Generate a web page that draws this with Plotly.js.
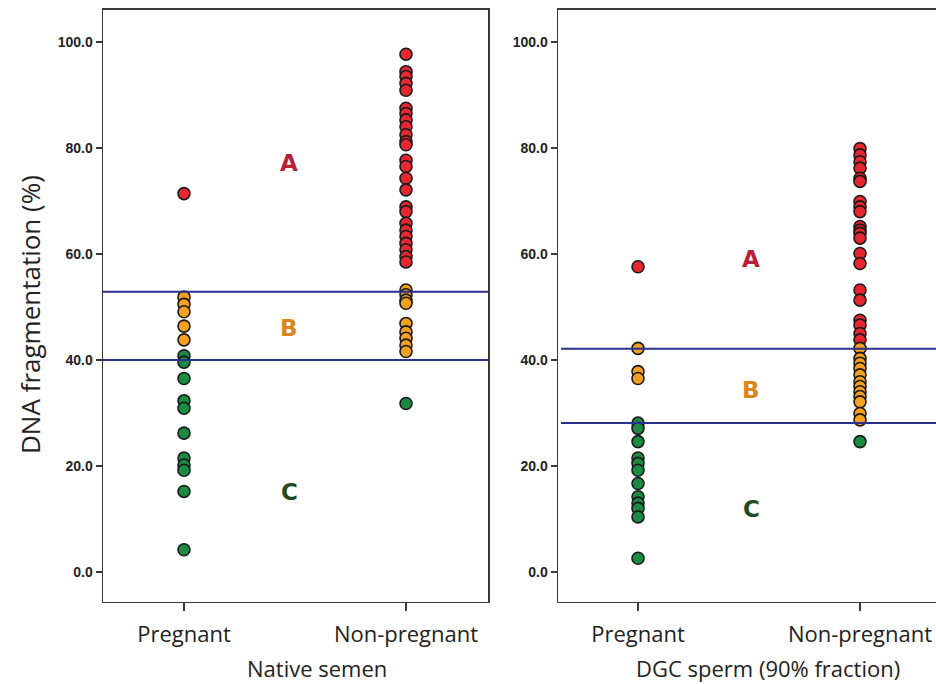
<!DOCTYPE html>
<html>
<head>
<meta charset="utf-8">
<script src="https://cdn.plot.ly/plotly-3.0.1.min.js"></script>
<style>html,body{margin:0;padding:0;background:#fff;}#chart{width:936px;height:684px;}</style>
</head>
<body>
<div id="chart"></div>
<script>
// ---- Data ----
const groups = ["Pregnant", "Non-pregnant"];

// Native semen
const nativePregRed = [71.4];
const nativePregOrange = [51.9, 50.5, 49.1, 46.4, 43.8];
const nativePregGreen = [40.8, 39.6, 36.5, 32.3, 30.9, 26.2, 21.5, 20.2, 19.2, 15.2, 4.2];
const nativeNonRed = [97.7, 94.4, 93.5, 92.2, 90.9, 87.5, 86.5, 85.3, 84.0, 82.5, 81.2, 80.6, 77.7, 76.5, 74.3, 72.1, 68.9, 68.0, 65.8, 64.5, 63.3, 62.0, 60.8, 59.5, 58.5];
const nativeNonOrange = [53.2, 52.3, 51.3, 50.7, 46.9, 45.3, 44.1, 42.8, 41.6];
const nativeNonGreen = [31.8];
const nativeThresholds = [52.9, 40.0];
const nativeZoneY = [77.2, 46.0, 15.1];

// DGC sperm (90% fraction)
const dgcPregRed = [57.6];
const dgcPregOrange = [42.2, 37.8, 36.5];
const dgcPregGreen = [28.1, 27.1, 24.6, 21.5, 20.5, 19.2, 16.7, 14.2, 13.0, 12.0, 10.4, 2.6];
const dgcNonRed = [79.9, 78.7, 77.4, 76.2, 74.3, 73.7, 69.9, 68.9, 68.0, 65.2, 64.5, 63.9, 63.0, 60.1, 58.2, 53.2, 51.3, 47.5, 46.6, 45.0, 43.8];
const dgcNonOrange = [42.2, 40.3, 39.4, 38.4, 37.2, 35.9, 35.0, 34.0, 33.1, 32.1, 29.9, 28.7];
const dgcNonGreen = [24.6];
const dgcThresholds = [42.1, 28.1];
const dgcZoneY = [59.1, 34.3, 11.9];

const zoneLabels = ["A", "B", "C"];
const yTicks = [0, 20, 40, 60, 80, 100];

// ---- Styles ----
const RED = "#e8262f", ORANGE = "#f6a01f", GREEN = "#1b8a43";
const ZONE_COLORS = ["#b8203a", "#d9861c", "#1f4a1f"];
const LINE_BLUE = "#2b2f8f";

function pts(cat, vals, color, xa, ya) {
  return {
    type: "scatter", mode: "markers",
    x: vals.map(() => cat), y: vals,
    xaxis: xa, yaxis: ya, showlegend: false, hoverinfo: "y",
    marker: {size: 12, color: color, line: {color: "#1a1a1a", width: 1.6}}
  };
}

const traces = [
  pts(groups[0], nativePregRed, RED, "x", "y"),
  pts(groups[0], nativePregOrange, ORANGE, "x", "y"),
  pts(groups[0], nativePregGreen, GREEN, "x", "y"),
  pts(groups[1], nativeNonRed, RED, "x", "y"),
  pts(groups[1], nativeNonOrange, ORANGE, "x", "y"),
  pts(groups[1], nativeNonGreen, GREEN, "x", "y"),
  pts(groups[0], dgcPregRed, RED, "x2", "y2"),
  pts(groups[0], dgcPregOrange, ORANGE, "x2", "y2"),
  pts(groups[0], dgcPregGreen, GREEN, "x2", "y2"),
  pts(groups[1], dgcNonRed, RED, "x2", "y2"),
  pts(groups[1], dgcNonOrange, ORANGE, "x2", "y2"),
  pts(groups[1], dgcNonGreen, GREEN, "x2", "y2")
];

const catFont = {family: "Open Sans, Noto Sans, sans-serif", size: 22, color: "#222"};
const tickFont = {family: "Liberation Sans, Arial, sans-serif", size: 14, color: "#222", weight: "bold"};
const frameColor = "#3a3a3a";

function xAxis(domain, range) {
  return {
    domain: domain, type: "category", categoryarray: groups, range: range,
    showline: true, mirror: true, linecolor: frameColor, linewidth: 1.5,
    ticks: "outside", ticklen: 8, tickwidth: 1.5, tickcolor: frameColor,
    tickfont: catFont, showgrid: false, zeroline: false, fixedrange: true,
    ticklabelstandoff: 4
  };
}
function yAxis(mirror) {
  return {
    domain: [0.1199, 0.9854], range: [-5.66, 106.04],
    tickvals: yTicks, tickformat: ".1f",
    showline: true, mirror: mirror, linecolor: frameColor, linewidth: 1.5,
    ticks: "outside", ticklen: 6, tickwidth: 1.5, tickcolor: frameColor,
    tickfont: tickFont, showgrid: false, zeroline: false, fixedrange: true
  };
}

const shapes = [];
nativeThresholds.forEach(v => shapes.push({type: "line", xref: "x domain", yref: "y", x0: 0, x1: 1, y0: v, y1: v, line: {color: LINE_BLUE, width: 2}}));
dgcThresholds.forEach(v => shapes.push({type: "line", xref: "x2 domain", yref: "y2", x0: 0.008, x1: 1, y0: v, y1: v, line: {color: LINE_BLUE, width: 2}}));

const zoneFont = c => ({family: "DejaVu Sans, sans-serif", size: 23, color: c, weight: "bold"});
const annotations = [];
zoneLabels.forEach((t, i) => {
  annotations.push({xref: "x", yref: "y", x: 0.473, y: nativeZoneY[i], text: t, showarrow: false, font: zoneFont(ZONE_COLORS[i])});
  annotations.push({xref: "x2", yref: "y2", x: 0.509, y: dgcZoneY[i], text: t, showarrow: false, font: zoneFont(ZONE_COLORS[i])});
});
annotations.push({xref: "x", yref: "paper", x: 0.599, y: 1 - 668/684, yanchor: "middle", xanchor: "center", text: "Native semen", showarrow: false, font: catFont});
annotations.push({xref: "x2", yref: "paper", x: 0.586, y: 1 - 668/684, yanchor: "middle", xanchor: "center", text: "DGC sperm (90% fraction)", showarrow: false, font: catFont});
annotations.push({xref: "paper", yref: "paper", x: 30/936, y: 1 - 315/684, xanchor: "center", yanchor: "middle", text: "DNA fragmentation (%)", textangle: -90, showarrow: false,
  font: {family: "Open Sans, Noto Sans, sans-serif", size: 26, color: "#222"}});

const layout = {
  width: 936, height: 684,
  margin: {l: 0, r: 0, t: 0, b: 0},
  paper_bgcolor: "#fff", plot_bgcolor: "#fff",
  xaxis: xAxis([103/936, 488/936], [-0.3649, 1.3694]),
  yaxis: yAxis(true),
  xaxis2: xAxis([558/936, 1], [-0.3604, 1.3423]),
  yaxis2: Object.assign(yAxis(false), {anchor: "x2"}),
  shapes: shapes, annotations: annotations
};
layout.xaxis2.anchor = "y2";
layout.xaxis.anchor = "y";

Plotly.newPlot("chart", traces, layout, {displayModeBar: false, staticPlot: true});
</script>
</body>
</html>
